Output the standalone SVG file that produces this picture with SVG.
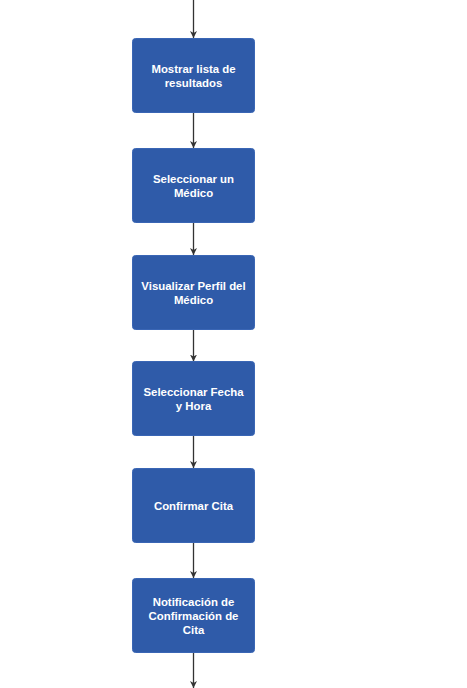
<svg xmlns="http://www.w3.org/2000/svg" width="467" height="688" viewBox="0 0 467 688">
<style>
.node rect{fill:#2F5BA9;stroke:#3A66B5;stroke-width:1}
.node text{fill:#FFFFFF;font-family:"Liberation Sans",Arial,sans-serif;font-size:11.4px;font-weight:bold;text-anchor:middle}
.edge{stroke:#333333;stroke-width:1.3;fill:none;marker-end:url(#arr)}
</style>
<defs>
<marker id="arr" viewBox="0 0 10 10" refX="10" refY="5" markerWidth="7" markerHeight="7" markerUnits="userSpaceOnUse" orient="auto">
<path d="M0,0 L10,5 L0,10 L3,5 Z" fill="#333333"/>
</marker>
</defs>
<rect width="467" height="688" fill="#FFFFFF"/>
<g id="connectors">
<path class="edge" d="M193.5,0 V38"/>
<path class="edge" d="M193.5,112.5 V148"/>
<path class="edge" d="M193.5,222.5 V255"/>
<path class="edge" d="M193.5,329.5 V361.5"/>
<path class="edge" d="M193.5,436 V468"/>
<path class="edge" d="M193.5,542.5 V578"/>
<path class="edge" d="M193.5,652.5 V688"/>
</g>
<g id="n1" class="node"><rect x="132.5" y="38.5" width="122" height="74" rx="3"/><text x="193.5" y="73">Mostrar lista de</text><text x="193.5" y="87">resultados</text></g>
<g id="n2" class="node"><rect x="132.5" y="148.5" width="122" height="74" rx="3"/><text x="193.5" y="183">Seleccionar un</text><text x="193.5" y="197">Médico</text></g>
<g id="n3" class="node"><rect x="132.5" y="255.5" width="122" height="74" rx="3"/><text x="193.5" y="290">Visualizar Perfil del</text><text x="193.5" y="304">Médico</text></g>
<g id="n4" class="node"><rect x="132.5" y="361.5" width="122" height="74" rx="3"/><text x="193.5" y="396">Seleccionar Fecha</text><text x="193.5" y="410">y Hora</text></g>
<g id="n5" class="node"><rect x="132.5" y="468.5" width="122" height="74" rx="3"/><text x="193.5" y="510">Confirmar Cita</text></g>
<g id="n6" class="node"><rect x="132.5" y="578.5" width="122" height="74" rx="3"/><text x="193.5" y="606">Notificación de</text><text x="193.5" y="620">Confirmación de</text><text x="193.5" y="634">Cita</text></g>
</svg>
